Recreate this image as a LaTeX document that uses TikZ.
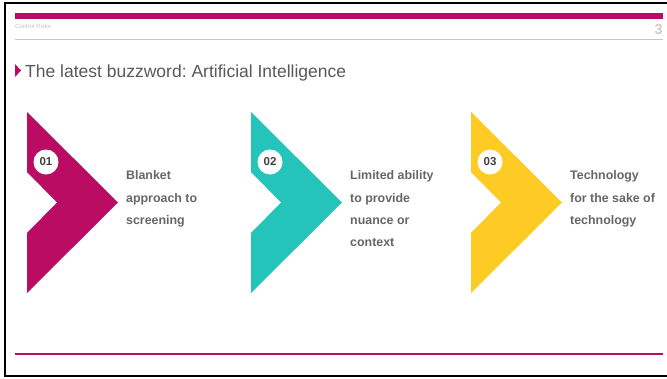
\documentclass[tikz,border=0pt]{standalone}
\usepackage{fontspec}
\setmainfont{Liberation Sans}
\frenchspacing
\definecolor{crmag}{HTML}{B90C62}
\definecolor{crteal}{HTML}{24C4BB}
\definecolor{cryellow}{HTML}{FDCB24}
\definecolor{txtgray}{HTML}{666666}
\definecolor{titlegray}{HTML}{595959}
\definecolor{lightgray}{HTML}{C4C4C4}
\definecolor{numgray}{HTML}{404040}
\tikzset{
  itemtext/.style={anchor=north west, inner sep=0pt, align=left, text=txtgray,
    font=\bfseries\fontsize{12.4}{22.3}\selectfont},
  numcircle/.style={circle, fill=white, minimum size=25pt, inner sep=0pt,
    text=numgray, font=\bfseries\fontsize{11.5}{12}\selectfont},
}
\newcommand{\chev}[2]{%
  \fill[#2] (#1,112) -- (#1+91,202.5) -- (#1,293) -- (#1,233) -- (#1+30,202.5) -- (#1,172) -- cycle;}
\begin{document}
\begin{tikzpicture}[x=1pt,y=-1pt]
\useasboundingbox (0,0) rectangle (667,378);
\fill[white] (0,0) rectangle (667,378);
% frame
\draw[black, line width=2pt] (667,3) -- (5,3) -- (5,375.5) -- (667,375.5);
% header
\fill[crmag] (15,13) rectangle (663,19);
\node[anchor=west, inner sep=0pt, text=lightgray, font=\fontsize{6}{7}\selectfont] (brand) at (15,26.5) {Control Risks};
\node[anchor=east, inner sep=0pt, text=lightgray!85, font=\bfseries\fontsize{14.5}{15}\selectfont] (pagenum) at (663,29.5) {3};
\draw[lightgray, line width=0.9pt] (15,39) -- (663,39);
% title
\fill[crmag] (15,64) -- (21,70.5) -- (15,77) -- cycle;
\node[anchor=west, inner sep=0pt, text=titlegray, font=\fontsize{17.5}{20}\selectfont] (title) at (25,72.5) {The latest buzzword: Artificial Intelligence};
% chevrons
\chev{27}{crmag}
\chev{251}{crteal}
\chev{471}{cryellow}
\node[numcircle] (n1) at (46,162) {01};
\node[numcircle] (n2) at (270,162) {02};
\node[numcircle] (n3) at (490,162) {03};
\node[itemtext] (t1) at (126,170.8) {Blanket\\approach to\\screening};
\node[itemtext] (t2) at (350,170.8) {Limited ability\\to provide\\nuance or\\context};
\node[itemtext] (t3) at (570,170.8) {Technology\\for the sake of\\technology};
% footer
\draw[crmag, line width=1.2pt] (15,354) -- (663,354);
\end{tikzpicture}
\end{document}
